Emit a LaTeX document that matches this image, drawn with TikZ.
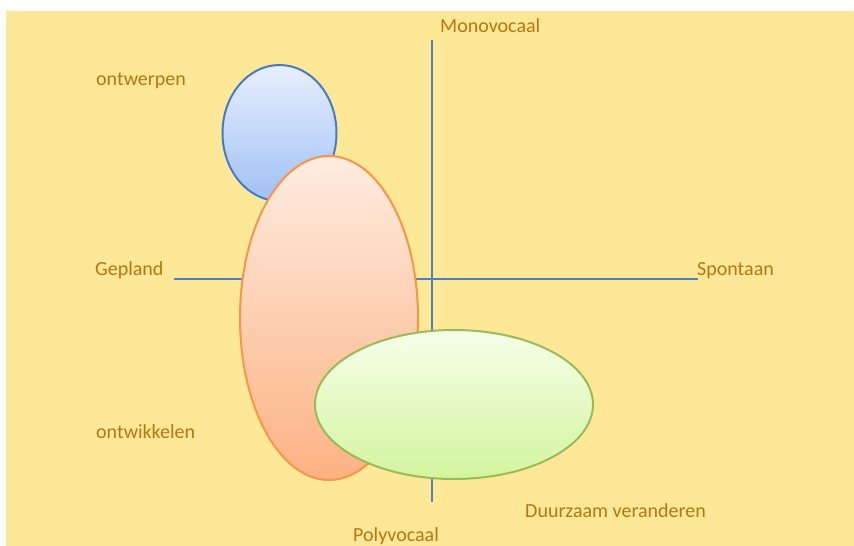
\documentclass[tikz,border=0pt]{standalone}
\usepackage{fontspec}
\setmainfont{Carlito}
\usetikzlibrary{shapes.geometric}
\definecolor{bgyellow}   {RGB}{253, 232, 152}
\definecolor{axisblue}   {RGB}{ 79, 129, 189}
\definecolor{txtbrown}   {RGB}{186, 118,  14}
\definecolor{blueline}   {RGB}{ 72, 122, 198}
\definecolor{orangeline} {RGB}{247, 150,  70}
\definecolor{greenline}  {RGB}{155, 187,  89}
\tikzset{
	label text/.style={anchor=base west, inner sep=0pt, text=txtbrown, font=\fontsize{20}{24}\selectfont},
	blob/.style={ellipse, inner sep=0pt, line width=2pt},
	axis line/.style={draw=axisblue, line width=2pt}
}
\begin{document}
\begin{tikzpicture}[x=1pt,y=-1pt]
	\useasboundingbox (0,0) rectangle (854,546);
	\fill[bgyellow] (6,11) rectangle (854,546);
	% axes
	\coordinate (mono) at (432,40);
	\coordinate (poly) at (432,502);
	\coordinate (plan) at (174,279);
	\coordinate (spon) at (698,279);
	\draw[axis line] (mono) -- (poly);
	\draw[axis line] (plan) -- (spon);
	% ellipses
	\node[blob, draw=blueline, top color={rgb,255:red,232;green,239;blue,255}, bottom color={rgb,255:red,160;green,192;blue,244}, minimum width=114pt, minimum height=136pt] (ontwerp) at (279.5,133) {};
	\node[blob, draw=orangeline, top color={rgb,255:red,255;green,236;blue,224}, bottom color={rgb,255:red,252;green,178;blue,130}, minimum width=178pt, minimum height=324pt] (ontwikkel) at (329,318) {};
	\node[blob, draw=greenline, top color={rgb,255:red,246;green,255;blue,234}, bottom color={rgb,255:red,212;green,244;blue,158}, minimum width=278pt, minimum height=149pt] (duurzaam) at (454,404.5) {};
	% labels
	\node[label text] (lmono) at (440,32) {Monovocaal};
	\node[label text] (lontwerp) at (96,85) {ontwerpen};
	\node[label text] (lplan) at (95,275) {Gepland};
	\node[label text] (lspon) at (697,275) {Spontaan};
	\node[label text] (lontwikkel) at (96,438) {ontwikkelen};
	\node[label text] (lduur) at (525,517) {Duurzaam veranderen};
	\node[label text] (lpoly) at (353,541) {Polyvocaal};
\end{tikzpicture}
\end{document}
